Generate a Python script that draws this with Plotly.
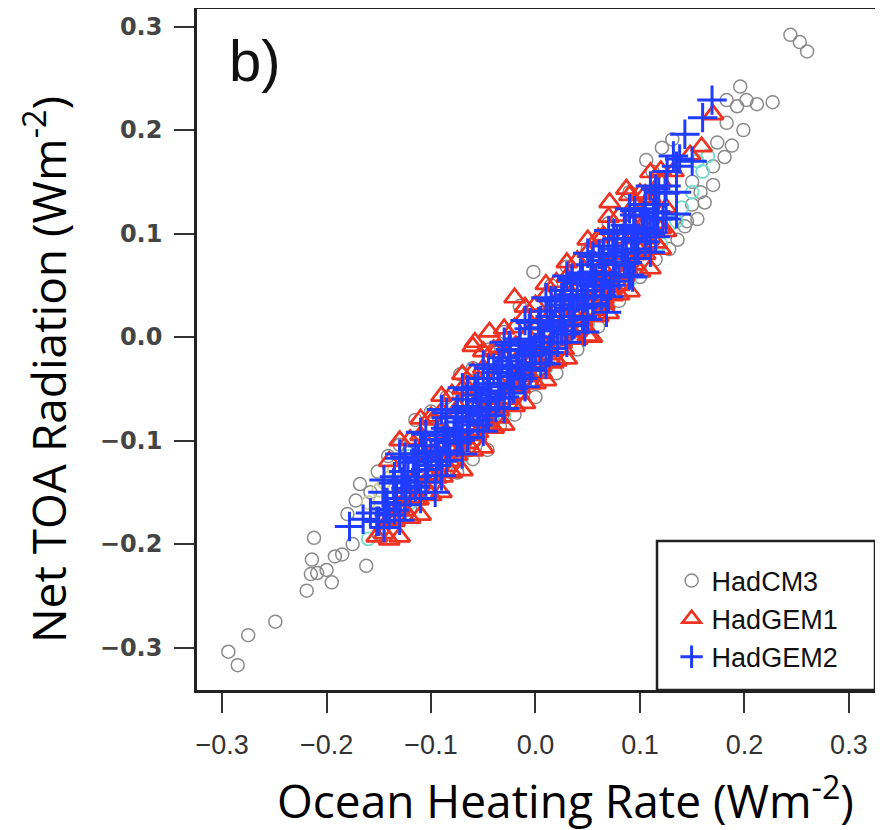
import plotly.graph_objects as go

# HadCM3 (grey open circles)
hadcm3_x = [-0.294, -0.285, -0.275, -0.249, -0.219, -0.215, -0.209, -0.214, -0.212, -0.195,
            -0.192, -0.185, -0.162, -0.180, -0.168, -0.158, -0.151, -0.141, -0.130, -0.115,
            -0.100, -0.085, -0.072, -0.060, -0.045, -0.030, -0.015, -0.002, 0.015, 0.030,
            0.050, 0.070, 0.090, 0.106, 0.121, 0.131, -0.200, -0.175, -0.150, -0.135,
            -0.120, -0.100, -0.075, -0.060, -0.046, -0.034, -0.020, 0.000, 0.020, 0.040,
            0.060, 0.080, 0.100, 0.115, 0.128, 0.136, 0.143, 0.145, 0.155, 0.162,
            0.170, 0.170, 0.181, 0.174, 0.183, 0.199, 0.196, 0.193, 0.202, 0.212,
            0.227, 0.183, 0.244, 0.253, 0.260, -0.050, 0.000, 0.050, 0.100, 0.150,
            0.112, 0.150, 0.158, 0.188, -0.172, -0.122, -0.092]
hadcm3_y = [-0.304, -0.317, -0.288, -0.275, -0.245, -0.229, -0.228, -0.215, -0.194, -0.237,
            -0.212, -0.210, -0.221, -0.171, -0.142, -0.150, -0.130, -0.115, -0.104, -0.080,
            -0.072, -0.058, -0.036, -0.030, -0.012, 0.005, 0.030, 0.063, 0.050, 0.068,
            0.085, 0.110, 0.140, 0.171, 0.183, 0.191, -0.225, -0.200, -0.190, -0.175,
            -0.165, -0.150, -0.131, -0.118, -0.109, -0.086, -0.075, -0.058, -0.035, -0.012,
            0.010, 0.035, 0.058, 0.075, 0.085, 0.094, 0.107, 0.112, 0.114, 0.130,
            0.147, 0.165, 0.174, 0.188, 0.207, 0.200, 0.242, 0.223, 0.229, 0.225,
            0.227, 0.229, 0.292, 0.285, 0.276, -0.060, -0.010, 0.050, 0.100, 0.150,
            0.160, 0.128, 0.140, 0.185, -0.158, -0.112, -0.080]

# other runs drawn faintly under the main cloud
extra_x = [-0.160, -0.140, -0.120, -0.100, -0.080, -0.060, -0.040, -0.020, 0.000, 0.020,
           0.040, 0.060, 0.080, 0.100, 0.120, 0.130, 0.140, 0.150, 0.160, 0.165, 0.155,
           -0.120, -0.090, -0.130, -0.110, -0.070, -0.030, 0.010, 0.050, 0.090, 0.135]
extra_y = [-0.195, -0.178, -0.160, -0.140, -0.120, -0.100, -0.082, -0.062, -0.042, -0.022,
           0.000, 0.022, 0.042, 0.065, 0.090, 0.110, 0.125, 0.140, 0.160, 0.175, 0.170,
           -0.115, -0.085, -0.175, -0.155, -0.115, -0.075, -0.030, 0.012, 0.055, 0.112]
khaki_x = [-0.160, -0.145, -0.135, -0.125, -0.110, -0.150, -0.140]
khaki_y = [-0.160, -0.140, -0.128, -0.118, -0.100, -0.148, -0.136]

# HadGEM1 (red open triangles)
hadgem1_x = [-0.152, -0.139, -0.130, -0.125, -0.118, -0.112, -0.108, -0.102, -0.098, -0.095,
             -0.089, -0.086, -0.082, -0.078, -0.074, -0.070, -0.067, -0.063, -0.060, -0.058,
             -0.057, -0.053, -0.050, -0.046, -0.044, -0.042, -0.038, -0.035, -0.031, -0.028,
             -0.024, -0.020, -0.019, -0.016, -0.012, -0.008, -0.005, -0.001, 0.003, 0.006,
             0.010, 0.014, 0.017, 0.020, 0.024, 0.027, 0.030, 0.034, 0.037, 0.040,
             0.044, 0.047, 0.050, 0.054, 0.057, 0.060, 0.063, 0.066, 0.071, 0.070,
             0.074, 0.077, 0.080, 0.084, 0.087, 0.088, 0.092, 0.096, 0.100, 0.105,
             0.110, 0.115, 0.120, 0.125, 0.132, 0.148, 0.159, 0.170,
             -0.145, -0.135, -0.125, -0.115, -0.105, -0.095, -0.085, -0.075, -0.065, -0.055,
             -0.045, -0.035, -0.025, -0.015, -0.005, 0.005, 0.015, 0.025, 0.035, 0.045,
             0.055, 0.065, 0.075, 0.085, 0.095, 0.105, 0.115, 0.125,
             -0.110, -0.090, -0.070, -0.035, -0.010, 0.010, 0.030, 0.050, 0.065, 0.095, 0.105,
             -0.100, -0.060, -0.020, 0.020, 0.060, 0.100,
             -0.140, -0.140, -0.140, -0.120, -0.120, -0.120, -0.100, -0.100, -0.100,
             -0.080, -0.080, -0.080, -0.060, -0.060, -0.060, -0.040, -0.040, -0.040,
             -0.020, -0.020, -0.020, 0.000, 0.000, 0.000, 0.020, 0.020, 0.020,
             0.040, 0.040, 0.040, 0.060, 0.060, 0.060, 0.080, 0.080, 0.080,
             0.100, 0.100, 0.100, 0.120, 0.120, 0.120,
             -0.130, -0.130, -0.110, -0.110, -0.090, -0.090, -0.070, -0.070, -0.050, -0.050,
             -0.030, -0.030, -0.010, -0.010, 0.010, 0.010, 0.030, 0.030, 0.050, 0.050,
             0.070, 0.070, 0.090, 0.090, 0.110, 0.110]
hadgem1_y = [-0.193, -0.178, -0.165, -0.150, -0.140, -0.157, -0.125, -0.135, -0.080, -0.110,
             -0.135, -0.092, -0.120, -0.100, -0.068, -0.110, -0.085, -0.052, -0.009, -0.005,
             -0.095, -0.072, -0.030, -0.085, 0.005, -0.060, -0.040, -0.078, -0.025, -0.060,
             -0.045, 0.038, -0.008, -0.055, -0.030, 0.002, -0.045, -0.020, 0.012, -0.035,
             -0.008, 0.020, -0.025, 0.002, 0.030, -0.012, 0.015, 0.042, -0.002, 0.025,
             0.055, 0.010, 0.035, 0.000, 0.048, 0.020, 0.068, 0.032, 0.130, 0.055,
             0.040, 0.080, 0.050, 0.095, 0.143, 0.065, 0.110, 0.080, 0.120, 0.095,
             0.135, 0.110, 0.150, 0.125, 0.160, 0.176, 0.184, 0.215,
             -0.190, -0.178, -0.168, -0.157, -0.146, -0.136, -0.125, -0.114, -0.103, -0.092,
             -0.082, -0.071, -0.060, -0.049, -0.038, -0.028, -0.017, -0.006, 0.005, 0.016,
             0.026, 0.037, 0.048, 0.059, 0.070, 0.080, 0.091, 0.102,
             -0.095, -0.072, -0.050, -0.010, 0.020, 0.040, 0.058, 0.082, 0.098, 0.128, 0.138,
             -0.112, -0.068, -0.025, 0.018, 0.062, 0.105,
             -0.196, -0.120, -0.176, -0.175, -0.099, -0.155, -0.153, -0.077, -0.133,
             -0.131, -0.055, -0.111, -0.110, -0.034, -0.090, -0.088, -0.012, -0.068,
             -0.067, 0.009, -0.047, -0.045, 0.031, -0.025, -0.023, 0.053, -0.003,
             -0.002, 0.074, 0.018, 0.020, 0.096, 0.040, 0.041, 0.117, 0.061,
             0.063, 0.139, 0.083, 0.085, 0.161, 0.105,
             -0.193, -0.100, -0.172, -0.079, -0.150, -0.057, -0.129, -0.036, -0.107, -0.014,
             -0.085, 0.008, -0.064, 0.029, -0.042, 0.051, -0.021, 0.072, 0.001, 0.094,
             0.023, 0.116, 0.044, 0.137, 0.066, 0.159]

# HadGEM2 (blue crosses)
hadgem2_x = [-0.178, -0.165, -0.158, -0.150, -0.142, -0.140, -0.133, -0.130, -0.128, -0.122,
             -0.120, -0.115, -0.112, -0.108, -0.105, -0.100, -0.096, -0.094, -0.090, -0.088,
             -0.085, -0.082, -0.078, -0.075, -0.072, -0.070, -0.066, -0.064, -0.060, -0.058,
             -0.055, -0.052, -0.050, -0.047, -0.044, -0.040, -0.038, -0.035, -0.032, -0.030,
             -0.027, -0.024, -0.021, -0.018, -0.015, -0.012, -0.010, -0.006, -0.004, 0.000,
             0.003, 0.005, 0.008, 0.011, 0.013, 0.016, 0.019, 0.021, 0.024, 0.027,
             0.029, 0.032, 0.035, 0.037, 0.040, 0.043, 0.045, 0.047, 0.050, 0.053,
             0.055, 0.058, 0.061, 0.063, 0.066, 0.068, 0.070, 0.072, 0.075, 0.078,
             0.080, 0.083, 0.086, 0.088, 0.093, 0.092, 0.095, 0.098, 0.102, 0.105,
             0.110, 0.113, 0.118, 0.122, 0.126, 0.132, 0.135, 0.143, 0.150, 0.160, 0.169,
             -0.146, -0.152, -0.136, -0.143, -0.126, -0.133, -0.117, -0.124, -0.106, -0.113,
             -0.096, -0.103, -0.086, -0.093, -0.076, -0.083, -0.066, -0.073, -0.056, -0.063,
             -0.046, -0.053, -0.036, -0.043, -0.026, -0.033, -0.016, -0.023, -0.006, -0.013,
             0.004, -0.003, 0.014, 0.007, 0.024, 0.017, 0.034, 0.027, 0.044, 0.037,
             0.054, 0.047, 0.064, 0.057, 0.074, 0.067, 0.084, 0.077, 0.094, 0.087,
             0.104, 0.097, 0.114, 0.107, 0.124, 0.117, 0.138,
             -0.145, -0.145, -0.145, -0.125, -0.125, -0.125, -0.105, -0.105, -0.105,
             -0.085, -0.085, -0.085, -0.065, -0.065, -0.065, -0.045, -0.045, -0.045,
             -0.025, -0.025, -0.025, -0.005, -0.005, -0.005, 0.015, 0.015, 0.015,
             0.035, 0.035, 0.035, 0.055, 0.055, 0.055, 0.075, 0.075, 0.075,
             0.095, 0.095, 0.095, 0.115, 0.115, 0.115, 0.135, 0.135,
             -0.135, -0.135, -0.115, -0.115, -0.095, -0.095, -0.075, -0.075, -0.055, -0.055,
             -0.035, -0.035, -0.015, -0.015, 0.005, 0.005, 0.025, 0.025, 0.045, 0.045,
             0.065, 0.065, 0.085, 0.085, 0.105, 0.105, 0.125, 0.125,
             -0.130, -0.130, -0.110, -0.110, -0.090, -0.090, -0.070, -0.070, -0.050, -0.050,
             -0.030, -0.030, -0.010, -0.010, 0.010, 0.010, 0.030, 0.030, 0.050, 0.050,
             0.070, 0.070, 0.090, 0.090, 0.110, 0.110]
hadgem2_y = [-0.183, -0.176, -0.170, -0.178, -0.160, -0.172, -0.150, -0.117, -0.140, -0.130,
             -0.150, -0.144, -0.120, -0.105, -0.128, -0.112, -0.150, -0.095, -0.120, -0.100,
             -0.078, -0.110, -0.090, -0.070, -0.100, -0.082, -0.060, -0.090, -0.072, -0.050,
             -0.085, -0.062, -0.040, -0.075, -0.055, -0.030, -0.068, -0.045, -0.020, -0.058,
             -0.035, -0.012, -0.050, -0.028, -0.002, -0.040, -0.018, 0.008, -0.030, -0.010,
             0.015, -0.025, 0.000, 0.025, -0.015, 0.010, 0.035, -0.005, 0.020, 0.045,
             0.003, 0.028, 0.055, 0.012, 0.038, 0.062, 0.020, 0.005, 0.045, 0.070,
             0.030, 0.055, 0.080, 0.040, 0.062, 0.024, 0.088, 0.050, 0.072, 0.095,
             0.060, 0.082, 0.108, 0.072, 0.058, 0.095, 0.118, 0.085, 0.105, 0.128,
             0.100, 0.120, 0.140, 0.115, 0.160, 0.175, 0.140, 0.196, 0.170, 0.212, 0.229,
             -0.150, -0.178, -0.141, -0.166, -0.130, -0.156, -0.121, -0.146, -0.110, -0.135,
             -0.099, -0.124, -0.088, -0.113, -0.077, -0.102, -0.067, -0.092, -0.056, -0.081,
             -0.045, -0.070, -0.034, -0.059, -0.023, -0.048, -0.013, -0.038, -0.002, -0.027,
             0.009, -0.016, 0.020, -0.005, 0.031, 0.006, 0.041, 0.016, 0.052, 0.027,
             0.063, 0.038, 0.074, 0.049, 0.085, 0.060, 0.095, 0.070, 0.106, 0.081,
             0.117, 0.092, 0.128, 0.103, 0.139, 0.114, 0.172,
             -0.138, -0.184, -0.160, -0.116, -0.162, -0.138, -0.094, -0.140, -0.116,
             -0.073, -0.119, -0.095, -0.051, -0.097, -0.073, -0.030, -0.076, -0.052,
             -0.008, -0.054, -0.030, 0.014, -0.032, -0.008, 0.035, -0.011, 0.013,
             0.057, 0.011, 0.035, 0.078, 0.032, 0.056, 0.100, 0.054, 0.078,
             0.122, 0.076, 0.100, 0.143, 0.097, 0.121, 0.165, 0.119,
             -0.135, -0.167, -0.113, -0.145, -0.092, -0.124, -0.070, -0.102, -0.048, -0.080,
             -0.027, -0.059, -0.005, -0.037, 0.016, -0.016, 0.038, 0.006, 0.060, 0.028,
             0.081, 0.049, 0.103, 0.071, 0.124, 0.092, 0.146, 0.114,
             -0.113, -0.177, -0.092, -0.156, -0.070, -0.134, -0.049, -0.113, -0.027, -0.091,
             -0.005, -0.069, 0.016, -0.048, 0.038, -0.026, 0.059, -0.005, 0.081, 0.017,
             0.103, 0.039, 0.124, 0.060, 0.146, 0.082]

x_ticks = [-0.3, -0.2, -0.1, 0.0, 0.1, 0.2, 0.3]
y_ticks = [-0.3, -0.2, -0.1, 0.0, 0.1, 0.2, 0.3]

fig = go.Figure()

fig.add_trace(go.Scatter(
    x=hadcm3_x, y=hadcm3_y, mode="markers", name="HadCM3",
    marker=dict(symbol="circle-open", size=13, color="#8a8a8a", line=dict(width=1.5)),
))
fig.add_trace(go.Scatter(
    x=extra_x, y=extra_y, mode="markers", showlegend=False,
    marker=dict(symbol="circle-open", size=13, color="#74dccb", line=dict(width=1.8)),
))
fig.add_trace(go.Scatter(
    x=khaki_x, y=khaki_y, mode="markers", showlegend=False,
    marker=dict(symbol="circle-open", size=13, color="#cfcf9a", line=dict(width=1.8)),
))
fig.add_trace(go.Scatter(
    x=hadgem1_x, y=hadgem1_y, mode="markers", name="HadGEM1",
    marker=dict(symbol="triangle-up-open", size=18, color="#ee3322", line=dict(width=2.7)),
))
fig.add_trace(go.Scatter(
    x=hadgem2_x, y=hadgem2_y, mode="markers", name="HadGEM2",
    marker=dict(symbol="cross-thin-open", size=21, color="#1f3cff", line=dict(width=3)),
))

axis_common = dict(
    showline=True, linecolor="#222222", linewidth=2.5, mirror=True,
    ticks="outside", ticklen=20, tickwidth=2, tickcolor="#333333",
    showgrid=False, zeroline=False, automargin=False,
)

fig.update_xaxes(
    range=[-0.324, 0.325], tickvals=x_ticks, tickformat=".1f",
    tickfont=dict(family="Liberation Sans Narrow, Liberation Sans", size=27, color="#333333"),
    ticklabelstandoff=9, **axis_common,
)
fig.update_yaxes(
    range=[-0.341, 0.317], tickvals=y_ticks, tickformat=".1f",
    tickfont=dict(family="DejaVu Sans", size=24, color="#444444", weight="bold"),
    ticklabelstandoff=7, **axis_common,
)

# the page body has an 8px margin, so the figure is drawn 8px smaller and shifted
fig.update_layout(
    width=875, height=822,
    margin=dict(l=189, r=8, t=1, b=140),
    plot_bgcolor="white", paper_bgcolor="white",
    showlegend=True,
    legend=dict(
        x=0.70, y=0.196, xanchor="left", yanchor="top",
        bgcolor="rgba(0,0,0,0)", borderwidth=0,
        font=dict(family="Liberation Sans", size=27, color="#111111"),
        traceorder="normal",
    ),
    shapes=[dict(
        type="rect", xref="paper", yref="paper",
        x0=(657 - 197) / 678, x1=1.0, y0=0.0, y1=1 - (541 - 9) / 681,
        line=dict(color="#222222", width=2.5), fillcolor="white", layer="above",
    )],
    annotations=[
        dict(text="b)", xref="paper", yref="paper", x=0.086, y=0.924,
             xanchor="center", yanchor="middle", showarrow=False,
             font=dict(family="Liberation Sans", size=58, color="#111111")),
        dict(text="Ocean Heating Rate (Wm<sup>-2</sup>)", xref="paper", yref="paper",
             x=0.543, y=-0.158, xanchor="center", yanchor="middle", showarrow=False,
             font=dict(family="Open Sans", size=46, color="#000000")),
        dict(text="Net TOA Radiation (Wm<sup>-2</sup>)", xref="paper", yref="paper",
             x=-0.224, y=0.47, xanchor="center", yanchor="middle", textangle=-90,
             showarrow=False, font=dict(family="Open Sans", size=46, color="#000000")),
    ],
)

fig.write_html("out.html")
